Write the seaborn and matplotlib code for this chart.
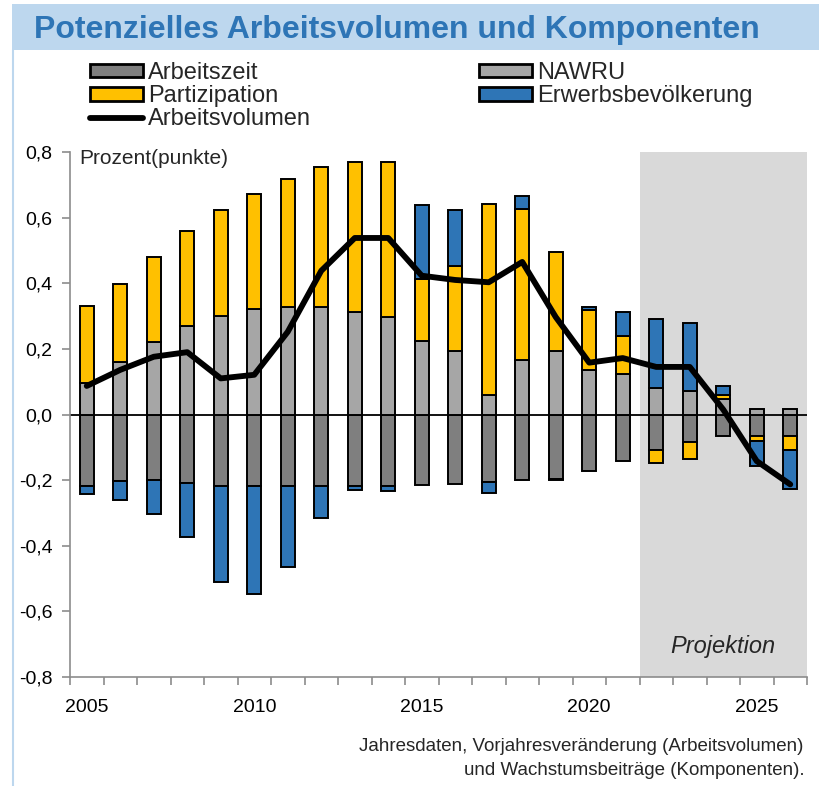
import numpy as np
import pandas as pd
import matplotlib
matplotlib.use("Agg")
import matplotlib.pyplot as plt
import seaborn as sns
from matplotlib.patches import Rectangle, Patch
from matplotlib.lines import Line2D

# Daten, Wachstumsbeiträge in Prozentpunkten
years = list(range(2005, 2027))
arbeitszeit = [-0.218, -0.203, -0.201, -0.208, -0.218, -0.218, -0.218, -0.218, -0.218, -0.218, -0.215,
               -0.211, -0.206, -0.200, -0.196, -0.171, -0.142, -0.107, -0.084, -0.067, -0.064, -0.064]
nawru = [0.095, 0.161, 0.221, 0.269, 0.300, 0.322, 0.327, 0.327, 0.312, 0.297, 0.223,
         0.194, 0.058, 0.166, 0.194, 0.137, 0.123, 0.080, 0.072, 0.046, 0.018, 0.016]
partizipation = [0.235, 0.237, 0.260, 0.291, 0.323, 0.349, 0.391, 0.427, 0.457, 0.473, 0.190,
                 0.258, 0.585, 0.461, 0.302, 0.182, 0.115, -0.040, -0.051, 0.014, -0.018, -0.043]
erwerbsbevoelkerung = [-0.025, -0.059, -0.103, -0.164, -0.293, -0.330, -0.248, -0.098, -0.013, -0.015, 0.224,
                       0.170, -0.032, 0.039, -0.003, 0.008, 0.074, 0.210, 0.207, 0.027, -0.074, -0.119]
arbeitsvolumen = [0.087, 0.136, 0.176, 0.190, 0.110, 0.121, 0.252, 0.438, 0.538, 0.538, 0.423,
                  0.410, 0.403, 0.465, 0.297, 0.158, 0.172, 0.145, 0.145, 0.015, -0.142, -0.213]

komponenten = ["Arbeitszeit", "NAWRU", "Partizipation", "Erwerbsbevölkerung"]
farben = ["#7F7F7F", "#A6A6A6", "#FFC000", "#2E75B6"]

df = pd.DataFrame({
    "Jahr": years,
    "Arbeitszeit": arbeitszeit,
    "NAWRU": nawru,
    "Partizipation": partizipation,
    "Erwerbsbevölkerung": erwerbsbevoelkerung,
    "Arbeitsvolumen": arbeitsvolumen,
})

sns.set_theme(style="ticks")
plt.rcParams["font.family"] = ["Liberation Sans", "DejaVu Sans"]

W, H = 819, 786
fig = plt.figure(figsize=(W / 100, H / 100), dpi=100)
ax = fig.add_axes([70 / W, 1 - 677 / H, 737 / W, 525 / H])

# Kopfzeile und Rahmen
fig.add_artist(Rectangle((12 / W, 1 - 50 / H), 1 - 12 / W, 46 / H, transform=fig.transFigure,
                         facecolor="#BDD7EE", edgecolor="none"))
fig.add_artist(Line2D([12.5 / W, 12.5 / W], [0, 1 - 50 / H], transform=fig.transFigure,
                      color="#BDD7EE", lw=1.5))
fig.text(34 / W, 1 - 38 / H, "Potenzielles Arbeitsvolumen und Komponenten", fontsize=23,
         fontweight="bold", color="#2E75B6", va="baseline")

# Projektionszeitraum
ax.axvspan(2021.5, 2026.5, color="#D9D9D9", lw=0, zorder=0)
ax.axhline(0, color="black", lw=1.3, zorder=2)

# gestapelte Balken (positive und negative Beiträge getrennt)
pos = np.zeros(len(df))
neg = np.zeros(len(df))
for name, col in zip(komponenten, farben):
    v = df[name].to_numpy()
    bottom = np.where(v >= 0, pos, neg)
    ax.bar(df["Jahr"], v, bottom=bottom, width=0.42, color=col, edgecolor="black",
           linewidth=1.4, zorder=3)
    pos += np.clip(v, 0, None)
    neg += np.clip(v, None, 0)

sns.lineplot(data=df, x="Jahr", y="Arbeitsvolumen", color="black", lw=4.2, ax=ax,
             zorder=4, legend=False)
ax.lines[-1].set_solid_joinstyle("round")

ax.set_xlim(2004.5, 2026.5)
ax.set_ylim(-0.8, 0.8)
yt = np.round(np.arange(-0.8, 0.81, 0.2), 1)
ax.set_yticks(yt)
ax.set_yticklabels([f"{abs(v):.1f}".replace(".", ",") if v >= 0 else "-" + f"{abs(v):.1f}".replace(".", ",")
                    for v in yt])
ax.set_xticks([2005, 2010, 2015, 2020, 2025])
ax.set_xticks(np.arange(2004.5, 2027, 1), minor=True)
ax.set_xlabel("")
ax.set_ylabel("")

grau = "#8C8C8C"
ax.tick_params(axis="x", which="major", length=0, pad=15.5, labelsize=14, labelcolor="black")
ax.tick_params(axis="x", which="minor", length=6, width=1.2, color=grau, direction="out")
ax.tick_params(axis="y", which="major", length=6, width=1.2, color=grau, pad=6.5,
               labelsize=14, labelcolor="black")
for s in ["top", "right"]:
    ax.spines[s].set_visible(False)
for s in ["left", "bottom"]:
    ax.spines[s].set_color(grau)
    ax.spines[s].set_linewidth(1.2)

ax.text(0.013, (677 - 164) / 525, "Prozent(punkte)", transform=ax.transAxes, fontsize=15,
        va="baseline", ha="left")
ax.text(2024, -0.726, "Projektion", style="italic", fontsize=17, ha="center", va="baseline")

# Legende
handles = [Patch(facecolor=farben[0], edgecolor="black", lw=2),
           Patch(facecolor=farben[2], edgecolor="black", lw=2),
           Line2D([], [], color="black", lw=4.2),
           Patch(facecolor=farben[1], edgecolor="black", lw=2),
           Patch(facecolor=farben[3], edgecolor="black", lw=2)]
labels = ["Arbeitszeit", "Partizipation", "Arbeitsvolumen", "NAWRU", "Erwerbsbevölkerung"]
fig.legend(handles, labels, loc="upper left", bbox_to_anchor=(90 / W, 1 - 62 / H), ncol=2,
           frameon=False, fontsize=17, handlelength=2.25, handleheight=0.5, handletextpad=0.2,
           columnspacing=7.12, labelspacing=0.05, borderpad=0, borderaxespad=0)

# Fußnote
fig.text(803 / W, 1 - 751 / H, "Jahresdaten, Vorjahresveränderung (Arbeitsvolumen)",
         fontsize=13.5, ha="right", va="baseline")
fig.text(805 / W, 1 - 775 / H, "und Wachstumsbeiträge (Komponenten).",
         fontsize=13.5, ha="right", va="baseline")

fig.savefig("out.png", dpi=100)
